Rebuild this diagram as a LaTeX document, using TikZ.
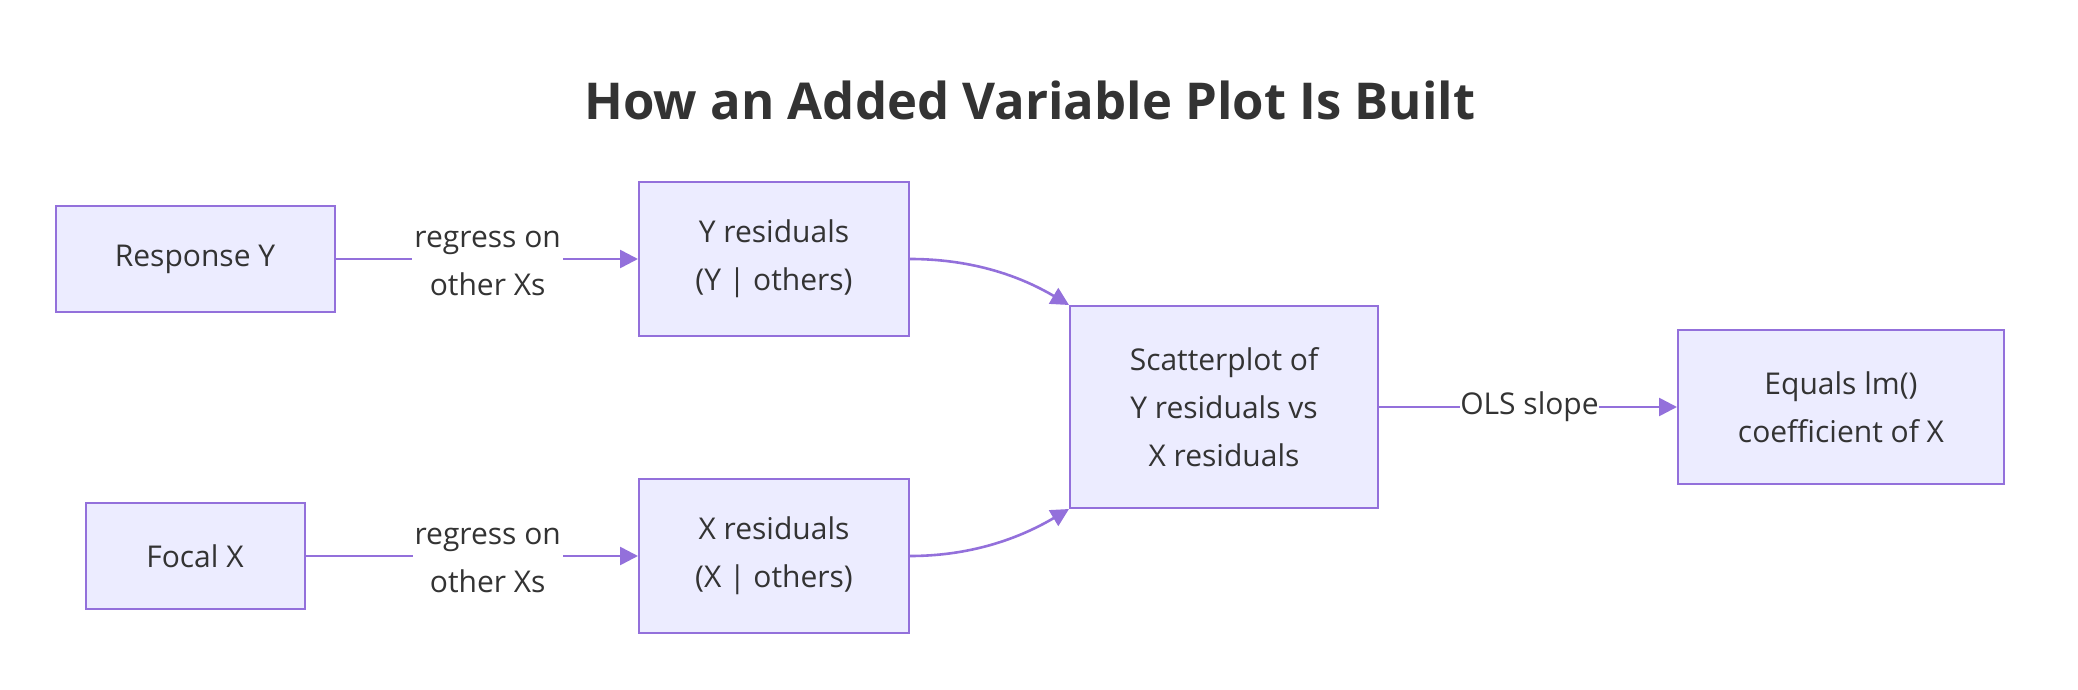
\documentclass[tikz,border=0pt]{standalone}
\usepackage{fontspec}
\setmainfont{Open Sans}
\usetikzlibrary{arrows.meta}
\definecolor{nodefill}{HTML}{ECECFF}
\definecolor{nodeborder}{HTML}{9370DB}
\definecolor{textcol}{HTML}{333333}
\begin{document}
\begin{tikzpicture}[x=1pt,y=-1pt,
  box/.style={draw=nodeborder, fill=nodefill, line width=1pt, text=textcol, align=center, inner sep=0pt, font=\fontsize{15}{24}\selectfont},
  lbl/.style={fill=white, text=textcol, align=center, inner sep=1pt, font=\fontsize{15}{24}\selectfont},
  edge/.style={draw=nodeborder, line width=1.3pt, -{Triangle[length=9pt,width=9pt]}}]
\useasboundingbox (0,0) rectangle (1039,345);
\node[text=textcol, font=\bfseries\fontsize{25.4}{30}\selectfont] (title) at (515,50) {How an Added Variable Plot Is Built};
\node[box, minimum width=139.5pt, minimum height=53pt] (resp) at (97.5,129.5) {Response Y};
\node[box, minimum width=135pt, minimum height=77pt] (yres) at (387,129.5) {Y residuals\\(Y | others)};
\node[box, minimum width=109.5pt, minimum height=53pt] (focal) at (97.5,278) {Focal X};
\node[box, minimum width=135pt, minimum height=77pt] (xres) at (387,278) {X residuals\\(X | others)};
\node[box, minimum width=154pt, minimum height=101pt] (scat) at (612,203.5) {Scatterplot of\\Y residuals vs\\X residuals};
\node[box, minimum width=163pt, minimum height=77pt] (eq) at (920.5,203.5) {Equals lm()\\coefficient of X};
\draw[edge] (resp.east) -- node[lbl, pos=0.503, yshift=-2pt] {regress on\\other Xs} (yres.west);
\draw[edge] (focal.east) -- node[lbl, pos=0.548, yshift=-2pt] {regress on\\other Xs} (xres.west);
\draw[edge] (scat.east) -- node[lbl, pos=0.505, inner sep=0pt] {OLS slope} (eq.west);
\draw[edge] (yres.east) .. controls +(28,0) and +(-27,-16) .. (scat.north west);
\draw[edge] (xres.east) .. controls +(28,0) and +(-27,16) .. (scat.south west);
\end{tikzpicture}
\end{document}
